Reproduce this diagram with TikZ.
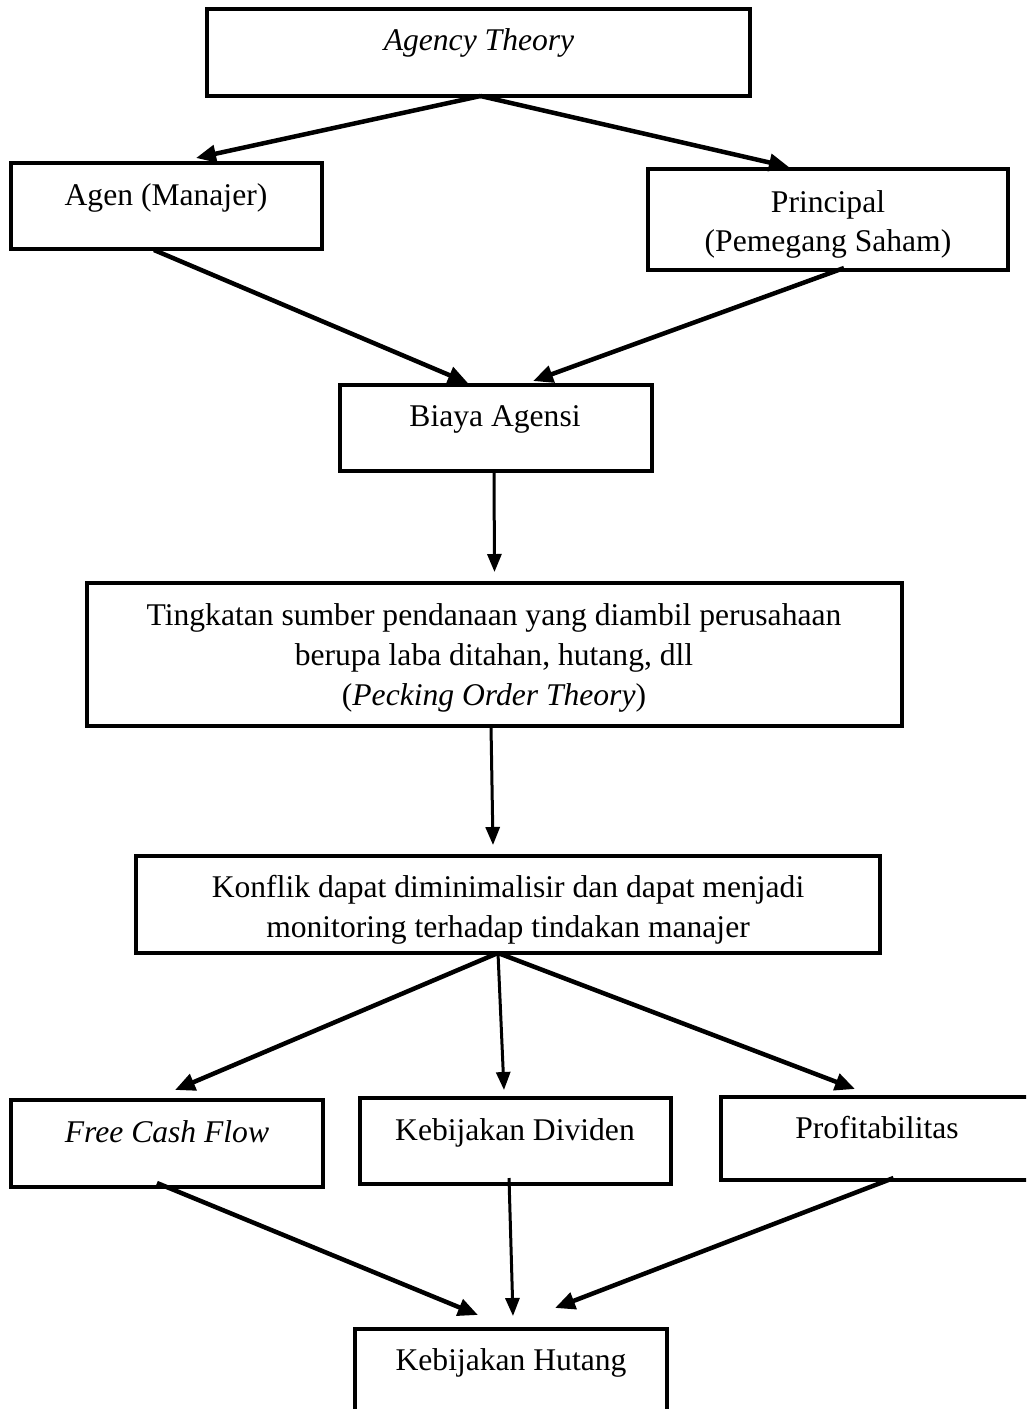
\documentclass[tikz,border=0pt]{standalone}
\usepackage{fontspec}
\setmainfont{Liberation Serif}
\usetikzlibrary{arrows.meta,calc}
\begin{document}
\begin{tikzpicture}[x=1pt,y=-1pt,
  boxnode/.style={draw, line width=4pt, inner sep=0pt, outer sep=0pt, anchor=north west},
  txt/.style={anchor=base, inner sep=0pt, outer sep=0pt, font=\fontsize{31.6}{40}\selectfont},
  arr/.style={line width=4.5pt, -{Triangle[length=20pt,width=17pt]}},
  varr/.style={line width=3pt, -{Triangle[length=18pt,width=14pt]}}]
\useasboundingbox (0,0) rectangle (1026,1409);
\clip (0,0) rectangle (1026,1409);
% boxes
\node[boxnode, minimum width=543pt, minimum height=87pt] (agency) at (207,9) {};
\node[boxnode, minimum width=311pt, minimum height=86pt] (agen) at (11,163) {};
\node[boxnode, minimum width=360pt, minimum height=101pt] (principal) at (648,169) {};
\node[boxnode, minimum width=312pt, minimum height=86pt] (biaya) at (340,385) {};
\node[boxnode, minimum width=815pt, minimum height=143pt] (ting) at (87,583) {};
\node[boxnode, minimum width=744pt, minimum height=97pt] (konflik) at (136,856) {};
\node[boxnode, minimum width=312pt, minimum height=87pt] (fcf) at (11,1100) {};
\node[boxnode, minimum width=311pt, minimum height=86pt] (kd) at (360,1098) {};
\node[boxnode, minimum width=320pt, minimum height=83pt] (prof) at (721,1097) {};
\node[boxnode, minimum width=312pt, minimum height=90pt] (kh) at (355,1329) {};
% texts
\node[txt] (tagency) at (479,50) {\textit{Agency Theory}};
\node[txt] (tagen) at (166,205) {Agen (Manajer)};
\node[txt] (tprin1) at (828,212) {Principal};
\node[txt] (tprin2) at (828,251) {(Pemegang Saham)};
\node[txt] (tbiaya) at (495,426) {Biaya Agensi};
\node[txt] (tting1) at (494,625) {Tingkatan sumber pendanaan yang diambil perusahaan};
\node[txt] (tting2) at (494,665) {berupa laba ditahan, hutang, dll};
\node[txt] (tting3) at (494,705) {(\textit{Pecking Order Theory})};
\node[txt] (tkon1) at (508,897) {Konflik dapat diminimalisir dan dapat menjadi};
\node[txt] (tkon2) at (508,937) {monitoring terhadap tindakan manajer};
\node[txt] (tfcf) at (167,1142) {\textit{Free Cash Flow}};
\node[txt] (tkd) at (515,1140) {Kebijakan Dividen};
\node[txt] (tprof) at (877,1138) {Profitabilitas};
\node[txt] (tkh) at (511,1370) {Kebijakan Hutang};
% connectors
\draw[arr] ($(agency.south)+(2,0)$) -- ($(agen.north)+(29.5,-5)$);
\draw[arr] ($(agency.south)+(2,0)$) -- ($(principal.north)+(-39,-2)$);
\draw[arr] ($(agen.south)+(-12.5,1)$) -- ($(biaya.north)+(-28,-2)$);
\draw[arr] ($(principal.south)+(16,-2)$) -- ($(biaya.north)+(37,-4)$);
\draw[varr] ($(biaya.south)+(-2,0)$) -- ($(ting.north)+(0,-11)$);
\draw[varr] ($(ting.south)+(-3.5,0)$) -- ($(konflik.north)+(-15,-11)$);
\draw[arr] ($(konflik.south)+(-10,0)$) -- ($(fcf.north)+(8,-10)$);
\draw[varr] ($(konflik.south)+(-10,0)$) -- ($(kd.north)+(-11.5,-8)$);
\draw[arr] ($(konflik.south)+(-10,0)$) -- ($(prof.north)+(-26,-8)$);
\draw[arr] ($(fcf.south)+(-10,-4)$) -- ($(kh.north)+(-33,-14)$);
\draw[varr] ($(kd.south)+(-6.5,-6)$) -- ($(kh.north)+(2,-13)$);
\draw[arr] ($(prof.south)+(12.5,-2)$) -- ($(kh.north)+(44,-21)$);
\end{tikzpicture}
\end{document}
